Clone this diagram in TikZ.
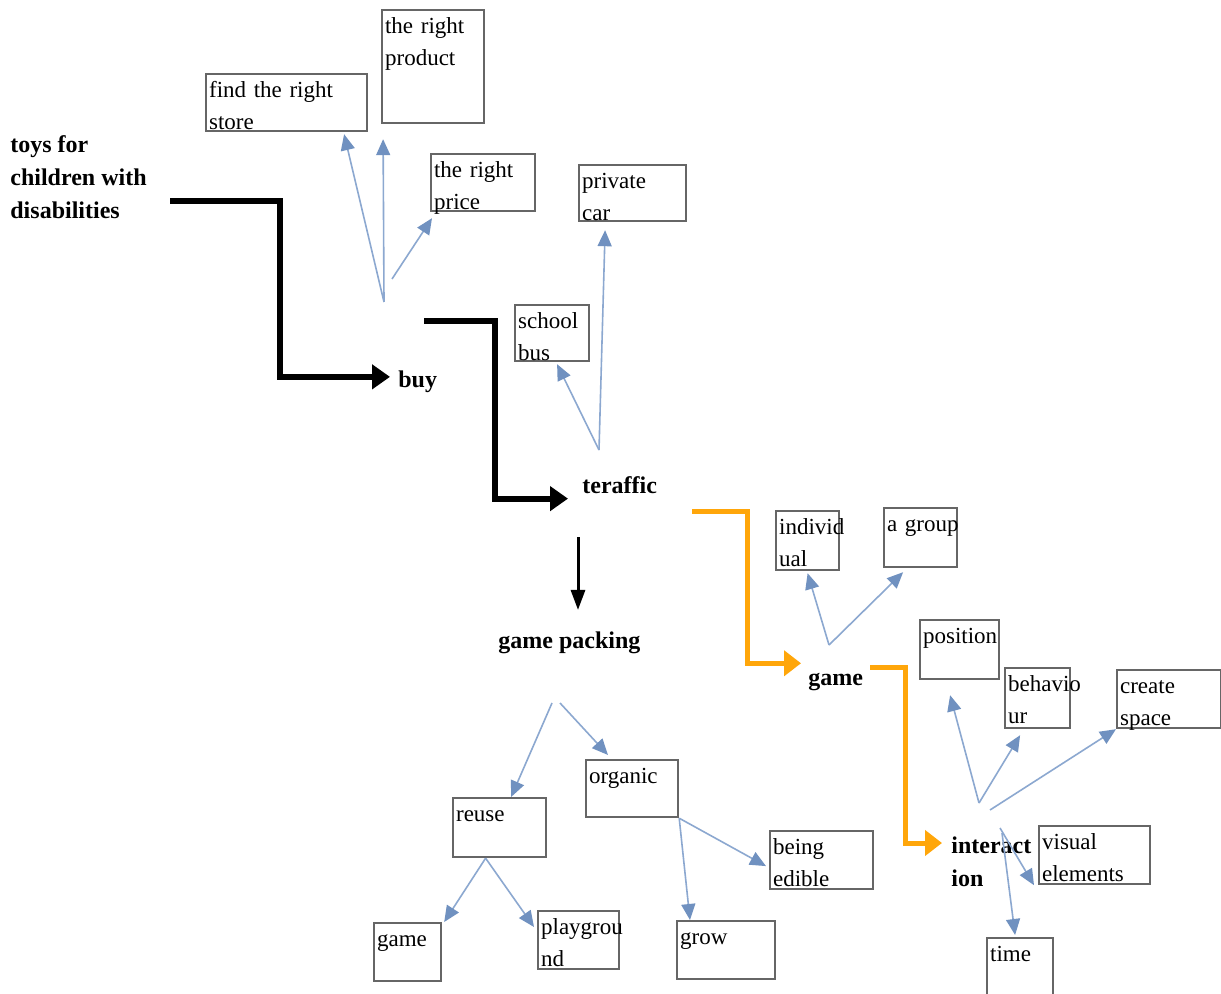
\documentclass[tikz,border=0pt]{standalone}
\usepackage{fontspec}
\setmainfont{Liberation Serif}
\usetikzlibrary{positioning, calc, arrows.meta}

\definecolor{linkblue}{RGB}{140,168,208}
\definecolor{tipblue}{RGB}{112,145,192}
\definecolor{gameorange}{RGB}{255,166,10}

\begin{document}
\begin{tikzpicture}[
    x=0.5pt, y=-0.5pt,
    % Styling
    idea box/.style={
        draw=black!60,
        line width=1.1pt,
        anchor=north west,
        align=left,
        inner xsep=1.5pt,
        inner ysep=2.5pt,
        text height=9pt,
        font=\fontsize{11.5}{16}\selectfont
    },
    % Bold stage labels without a frame
    topic/.style={
        inner sep=2pt,
        align=left,
        font=\bfseries\fontsize{12}{16.5}\selectfont
    },
    main flow/.style={
        line width=3pt,
        -{Triangle[length=9pt, width=12pt]}
    },
    down flow/.style={
        line width=1.5pt,
        -{Triangle[length=10pt, width=7pt]}
    },
    game flow/.style={
        draw=gameorange,
        line width=2.5pt,
        -{Triangle[length=8.5pt, width=12.5pt, color=gameorange]}
    },
    branch/.style={
        draw=linkblue,
        line width=0.8pt,
        -{Triangle[length=8pt, width=7pt, color=tipblue]}
    }
]
\useasboundingbox[fill=white] (0,0) rectangle (1221,994);

% --- Stage labels ---
\node[topic, anchor=north west] (toys) at (6,131) {toys for\\children with\\disabilities};
\node[topic, anchor=base west] (buy) at (394,388) {buy};
\node[topic, anchor=base west] (teraffic) at (578,494) {teraffic};
\node[topic, anchor=base west] (packing) at (494,648) {game packing};
\node[topic, anchor=base west] (game) at (804,685) {game};
\node[topic, anchor=north west] (interaction) at (947,832) {interact\\ion};

% --- Boxes around buy ---
\node[idea box, text width=77.5pt, text depth=14.5pt] (store) at (205,73) {find the right\\store};
\node[idea box, text width=48pt, text depth=42.5pt] (product) at (381,9) {the right\\product};
\node[idea box, text width=49pt, text depth=14.5pt] (price) at (430,153) {the right\\price};

% --- Boxes around teraffic ---
\node[idea box, text width=50.5pt, text depth=14pt] (privatecar) at (578,164) {private\\car};
\node[idea box, text width=34pt, text depth=14pt] (schoolbus) at (514,304) {school\\bus};

% --- Boxes around game ---
\node[idea box, text width=28.5pt, text depth=15.5pt] (individual) at (775,510) {individ\\ual};
\node[idea box, text width=33.5pt, text depth=15.5pt] (agroup) at (883,507) {a~group};

% --- Boxes around interaction ---
\node[idea box, text width=36.5pt, text depth=15.5pt] (position) at (919,619) {position};
\node[idea box, text width=29.5pt, text depth=16pt] (behaviour) at (1004,667) {behavio\\ur};
\node[idea box, text width=49pt, text depth=15pt] (createspace) at (1116,669) {create\\space};
\node[idea box, text width=52.5pt, text depth=15pt] (visual) at (1038,825) {visual\\elements};
\node[idea box, text width=30pt, text depth=17.5pt] (time) at (986,937) {time};

% --- Boxes under game packing ---
\node[idea box, text width=43pt, text depth=14.5pt] (organic) at (585,759) {organic};
\node[idea box, text width=43.5pt, text depth=15.5pt] (reuse) at (452,797) {reuse};
\node[idea box, text width=48.5pt, text depth=15pt] (edible) at (769,830) {being\\edible};
\node[idea box, text width=30.5pt, text depth=15pt] (gamebox) at (373,922) {game};
\node[idea box, text width=37.5pt, text depth=15pt] (playground) at (537,910) {playgrou\\nd};
\node[idea box, text width=46pt, text depth=15pt] (grow) at (676,920) {grow};

% --- Free ends of the connectors ---
\coordinate (toys-out) at (170,201);
\coordinate (buy-out) at (424,321);
\coordinate (teraffic-down) at (578,537);
\coordinate (teraffic-out) at (692,512);
\coordinate (game-out) at (870,667);
\coordinate (buy-fan) at (384,302);
\coordinate (buy-fan2) at (392,279);
\coordinate (teraffic-fan) at (599,450);
\coordinate (game-fan) at (829,645);
\coordinate (packing-fan) at (552,703);
\coordinate (packing-fan2) at (560,703);
\coordinate (interaction-fan) at (979,803);
\coordinate (interaction-fan2) at (990,810);
\coordinate (interaction-fan3) at (1000,828);
\coordinate (interaction-fan4) at (1002,833);

% --- Main path ---
\draw[main flow] (toys-out) -- ++(110,0) |- ([xshift=-2pt, yshift=2.7pt]buy.west);
\draw[main flow] (buy-out) -- ++(71,0) |- ([xshift=-5pt]teraffic.south west);
\draw[down flow, shorten >=8.5pt] (teraffic-down) -- (teraffic-down |- packing.north);
\draw[game flow] (teraffic-out) -- ++(55,0) |- ([xshift=-1.5pt, yshift=2.5pt]game.north west);
\draw[game flow] (game-out) -- ++(35,0) |- ([xshift=-2.5pt, yshift=-5.5pt]interaction.north west);

% --- Branches ---
\draw[branch] (buy-fan) -- ([xshift=28.75pt, yshift=-1pt]store.south);
\draw[branch] (buy-fan) -- ([xshift=-25pt, yshift=-7.5pt]product.south);
\draw[branch] (buy-fan2) -- ([xshift=1pt, yshift=-3pt]price.south west);
\draw[branch] (teraffic-fan) -- ([xshift=2.5pt, yshift=-1pt]schoolbus.south);
\draw[branch] (teraffic-fan) -- ([xshift=-13.75pt, yshift=-4pt]privatecar.south);
\draw[branch] (game-fan) -- ([yshift=-1pt]individual.south);
\draw[branch] (game-fan) -- ([xshift=-8.75pt, yshift=-2pt]agroup.south);
\draw[branch] (interaction-fan) -- ([xshift=-4.75pt, yshift=-7.5pt]position.south);
\draw[branch] (interaction-fan) -- ([xshift=-8.75pt, yshift=-3pt]behaviour.south);
\draw[branch] (interaction-fan2) -- (createspace.south west);
\draw[branch] (interaction-fan3) -- ([xshift=-2pt]visual.south west);
\draw[branch] (interaction-fan4) -- ([xshift=-2.5pt, yshift=1pt]time.north);
\draw[branch] (packing-fan) -- ([xshift=5.75pt]reuse.north);
\draw[branch] (packing-fan2) -- ([xshift=11.5pt, yshift=2pt]organic.north west);
\draw[branch] ([xshift=-7pt]reuse.south) -- ([xshift=1pt]gamebox.north east);
\draw[branch] ([xshift=-7pt]reuse.south) -- ([xshift=-1.5pt, yshift=-8.5pt]playground.north west);
\draw[branch] (organic.south east) -- ([xshift=-1.5pt, yshift=-3pt]edible.west);
\draw[branch] (organic.south east) -- ([xshift=7pt]grow.north west);

\end{tikzpicture}
\end{document}
